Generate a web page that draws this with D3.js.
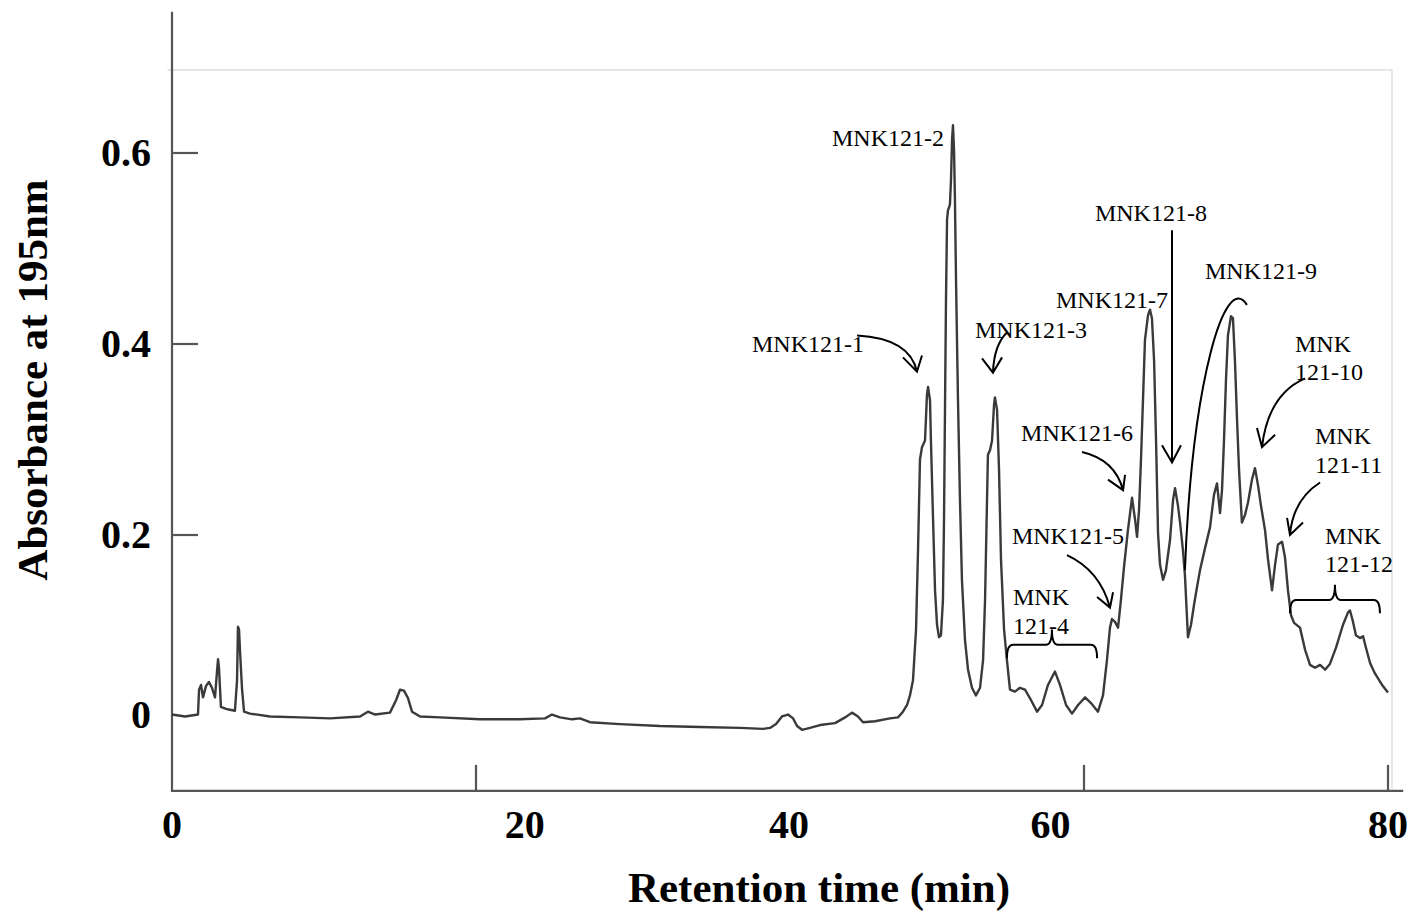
<!DOCTYPE html>
<html>
  <head>
    <meta charset="utf-8">
    <title>Chromatogram MNK121</title>
    <script src="https://d3js.org/d3.v7.min.js"></script>
  </head>
  <body style="margin:0;background:#fff">
<style>
  text { font-family: "Liberation Serif", "Times New Roman", serif; fill: #000; }
  .trace { fill: none; stroke: #3a3a3a; stroke-width: 2.4; stroke-linejoin: round; }
  .axis-line { stroke: #555; stroke-width: 2.2; }
  .frame { stroke: #e6e6e6; stroke-width: 2; fill: none; }
  .note { fill: none; stroke: #000; stroke-width: 2; }
  .tick-label { font-weight: bold; font-size: 40px; }
  .axis-title { font-weight: bold; font-size: 43px; }
  .label { font-size: 24px; }
</style>
<script>

  // retention time (min) and absorbance at 195nm
  var time = [0,0.86,1.71,1.78,1.91,2.04,2.24,2.43,2.63,2.83,2.96,3.03,3.09,3.22,3.55,3.82,4.14,4.28,4.34,4.41,4.47,4.61,4.74,5.13,6.45,8.42,10.39,12.37,12.89,13.36,14.34,14.74,15.00,15.26,15.53,15.79,16.32,17.63,20.26,22.89,24.54,25.00,25.53,26.32,26.84,27.50,29.47,32.11,34.74,37.37,38.88,39.34,39.74,40.13,40.53,40.86,41.12,41.45,41.97,42.63,43.62,44.28,44.74,45.13,45.46,46.25,47.24,47.76,48.09,48.36,48.55,48.75,48.95,49.08,49.21,49.34,49.54,49.67,49.74,49.87,49.93,50.07,50.20,50.33,50.46,50.59,50.72,50.79,50.86,50.92,50.99,51.05,51.18,51.25,51.32,51.38,51.45,51.51,51.58,51.71,51.84,51.97,52.17,52.37,52.63,52.89,53.16,53.36,53.49,53.62,53.68,53.82,53.95,54.08,54.14,54.28,54.41,54.54,54.74,54.93,55.13,55.46,55.79,56.12,56.45,56.91,57.24,57.63,58.09,58.42,58.82,59.21,59.61,60.07,60.46,60.92,61.25,61.51,61.71,61.84,62.04,62.24,62.43,62.63,62.89,63.16,63.36,63.49,63.62,63.75,63.88,64.01,64.21,64.34,64.47,64.61,64.74,64.87,65.00,65.20,65.39,65.66,65.86,65.99,66.18,66.32,66.51,66.64,66.84,67.04,67.24,67.43,67.63,67.96,68.29,68.55,68.75,68.95,69.08,69.21,69.34,69.47,69.67,69.80,69.93,70.07,70.20,70.39,70.59,70.79,71.05,71.25,71.45,71.64,71.91,72.11,72.37,72.57,72.76,73.03,73.22,73.42,73.62,73.82,74.21,74.54,74.87,75.20,75.53,75.86,76.18,76.58,77.04,77.37,77.50,77.70,77.89,78.16,78.36,78.55,78.82,79.14,79.61,80.00];
  var absorbance = [0.012,0.010,0.012,0.038,0.043,0.030,0.042,0.046,0.040,0.030,0.057,0.070,0.061,0.020,0.018,0.017,0.016,0.048,0.104,0.101,0.080,0.038,0.015,0.013,0.010,0.009,0.008,0.010,0.015,0.012,0.014,0.027,0.038,0.037,0.029,0.015,0.010,0.009,0.007,0.007,0.008,0.012,0.009,0.007,0.008,0.004,0.002,0.000,-0.001,-0.002,-0.003,-0.002,0.002,0.010,0.012,0.008,0.000,-0.004,-0.002,0.001,0.003,0.009,0.014,0.010,0.004,0.005,0.008,0.009,0.015,0.022,0.032,0.048,0.101,0.184,0.279,0.292,0.299,0.347,0.355,0.341,0.299,0.216,0.142,0.106,0.093,0.095,0.132,0.216,0.341,0.446,0.530,0.540,0.546,0.572,0.614,0.629,0.603,0.551,0.467,0.341,0.237,0.153,0.090,0.059,0.040,0.032,0.040,0.069,0.132,0.237,0.284,0.289,0.299,0.336,0.344,0.331,0.268,0.174,0.101,0.069,0.038,0.036,0.040,0.038,0.029,0.015,0.022,0.043,0.057,0.043,0.022,0.013,0.022,0.030,0.024,0.015,0.032,0.069,0.103,0.112,0.109,0.103,0.132,0.166,0.205,0.239,0.216,0.198,0.226,0.279,0.341,0.404,0.430,0.436,0.427,0.383,0.299,0.202,0.169,0.153,0.163,0.195,0.237,0.249,0.231,0.213,0.184,0.158,0.093,0.106,0.127,0.145,0.163,0.186,0.208,0.242,0.254,0.223,0.247,0.299,0.362,0.409,0.429,0.427,0.383,0.320,0.268,0.213,0.221,0.234,0.258,0.270,0.252,0.231,0.205,0.174,0.142,0.169,0.190,0.193,0.177,0.142,0.116,0.108,0.103,0.080,0.064,0.061,0.064,0.059,0.065,0.082,0.106,0.119,0.121,0.109,0.095,0.092,0.094,0.082,0.066,0.055,0.043,0.035];

  // axis ticks and where their labels sit (the printed labels are offset from the marks)
  var xTickMarks = [20, 60, 80];
  var xTickLabels = ["0", "20", "40", "60", "80"];
  var xTickLabelAt = [0, 23.2, 40.6, 57.8, 80];
  var yTickMarks = [0.2, 0.4, 0.6];
  var yTickLabels = ["0", "0.2", "0.4", "0.6"];
  var yTickLabelAt = [0.012, 0.2, 0.4, 0.6];

  // peak labels: [lines, time, absorbance] of the first baseline
  var peakLabels = [
    [["MNK121-1"], 38.16, 0.392],
    [["MNK121-2"], 43.42, 0.607],
    [["MNK121-3"], 52.83, 0.406],
    [["MNK", "121-4"], 55.33, 0.127],
    [["MNK121-5"], 55.26, 0.191],
    [["MNK121-6"], 55.86, 0.298],
    [["MNK121-7"], 58.16, 0.438],
    [["MNK121-8"], 60.72, 0.529],
    [["MNK121-9"], 67.96, 0.468],
    [["MNK", "121-10"], 73.88, 0.392],
    [["MNK", "121-11"], 75.20, 0.295],
    [["MNK", "121-12"], 75.86, 0.191]
  ];

  // curved arrows: start, control, tip, and the two arms of the head
  var arrows = [
    [[45.07, 0.409], [48.55, 0.406], [49.01, 0.371], [48.09, 0.386], [49.34, 0.388]],
    [[54.93, 0.412], [54.08, 0.399], [54.01, 0.370], [53.29, 0.385], [54.61, 0.386]],
    [[58.88, 0.179], [61.05, 0.163], [61.71, 0.124], [60.86, 0.135], [61.91, 0.140]],
    [[59.87, 0.287], [62.04, 0.279], [62.57, 0.247], [61.58, 0.258], [62.70, 0.263]],
    [[65.79, 0.519], [65.79, 0.400], [65.79, 0.276], [65.13, 0.294], [66.38, 0.294]],
    [[74.54, 0.364], [72.11, 0.347], [71.71, 0.292], [71.38, 0.312], [72.57, 0.305]],
    [[75.53, 0.255], [73.75, 0.237], [73.55, 0.200], [73.36, 0.218], [74.41, 0.213]]
  ];

  // the open arc for MNK121-9 (cubic: start, c1, c2, end)
  var arc9 = [[66.64, 0.163], [67.11, 0.362], [69.28, 0.477], [70.72, 0.441]];

  // braces: left, middle, right time; end, bar, peak absorbance
  var braces = [
    [54.93, 57.89, 60.86, 0.071, 0.085, 0.101],
    [73.55, 76.51, 79.47, 0.118, 0.132, 0.148]
  ];

  var w = 1412, h = 914;

  var svg = d3.select("body").append("svg")
      .attr("width", w)
      .attr("height", h);

  var x = d3.scaleLinear().domain([0, 80]).range([172, 1388]);
  var y = d3.scaleLinear().domain([0, 0.6]).range([726, 153]);

  // faint frame left over from the pasted plot
  svg.append("path")
      .attr("class", "frame")
      .attr("d", "M" + x(-0.3) + "," + y(0.687) + "H" + x(80.26) + "V" + y(-0.066));

  // axes
  svg.append("line")
      .attr("class", "axis-line")
      .attr("x1", x(0)).attr("x2", x(0))
      .attr("y1", y(0.748)).attr("y2", y(-0.068) + 1);
  svg.append("line")
      .attr("class", "axis-line")
      .attr("x1", x(0) - 1).attr("x2", x(81))
      .attr("y1", y(-0.068)).attr("y2", y(-0.068));

  svg.selectAll("line.ytick")
      .data(yTickMarks)
    .enter()
      .append("line")
      .attr("class", "axis-line ytick")
      .attr("x1", x(0)).attr("x2", x(0) + 26)
      .attr("y1", function(d) { return y(d); })
      .attr("y2", function(d) { return y(d); });

  svg.selectAll("line.xtick")
      .data(xTickMarks)
    .enter()
      .append("line")
      .attr("class", "axis-line xtick")
      .attr("x1", function(d) { return x(d); })
      .attr("x2", function(d) { return x(d); })
      .attr("y1", y(-0.068)).attr("y2", y(-0.068) - 26);

  svg.selectAll("text.xlab")
      .data(xTickLabels)
    .enter()
      .append("text")
      .attr("class", "tick-label xlab")
      .attr("text-anchor", "middle")
      .attr("x", function(d, i) { return x(xTickLabelAt[i]); })
      .attr("y", 838)
      .text(function(d) { return d; });

  svg.selectAll("text.ylab")
      .data(yTickLabels)
    .enter()
      .append("text")
      .attr("class", "tick-label ylab")
      .attr("text-anchor", "end")
      .attr("x", 151)
      .attr("y", function(d, i) { return y(yTickLabelAt[i]) + 13; })
      .text(function(d) { return d; });

  svg.append("text")
      .attr("class", "axis-title")
      .attr("text-anchor", "middle")
      .attr("x", 819).attr("y", 902)
      .text("Retention time (min)");

  svg.append("text")
      .attr("class", "axis-title")
      .attr("text-anchor", "middle")
      .attr("transform", "translate(47,380) rotate(-90)")
      .text("Absorbance at 195nm");

  // the chromatogram
  var line = d3.line()
      .x(function(d, i) { return x(time[i]); })
      .y(function(d) { return y(d); });

  svg.append("path")
      .datum(absorbance)
      .attr("class", "trace")
      .attr("d", line);

  // annotations
  var labels = svg.selectAll("text.label")
      .data(peakLabels)
    .enter()
      .append("text")
      .attr("class", "label")
      .attr("x", function(d) { return x(d[1]); })
      .attr("y", function(d) { return y(d[2]); });
  labels.selectAll("tspan")
      .data(function(d) { return d[0].map(function(s) { return {s: s, x: x(d[1])}; }); })
    .enter()
      .append("tspan")
      .attr("x", function(d) { return d.x; })
      .attr("dy", function(d, i) { return i ? "1.2em" : 0; })
      .text(function(d) { return d.s; });

  function pt(p) { return [x(p[0]), y(p[1])]; }

  svg.selectAll("path.arrow")
      .data(arrows)
    .enter()
      .append("path")
      .attr("class", "note arrow")
      .attr("d", function(d) {
        var p = d3.path(), s = pt(d[0]), c = pt(d[1]), t = pt(d[2]), a = pt(d[3]), b = pt(d[4]);
        p.moveTo(s[0], s[1]);
        p.quadraticCurveTo(c[0], c[1], t[0], t[1]);
        p.moveTo(a[0], a[1]);
        p.lineTo(t[0], t[1]);
        p.lineTo(b[0], b[1]);
        return p.toString();
      });

  svg.append("path")
      .attr("class", "note")
      .attr("d", function() {
        var p = d3.path(), s = pt(arc9[0]), c1 = pt(arc9[1]), c2 = pt(arc9[2]), e = pt(arc9[3]);
        p.moveTo(s[0], s[1]);
        p.bezierCurveTo(c1[0], c1[1], c2[0], c2[1], e[0], e[1]);
        return p.toString();
      });

  svg.selectAll("path.brace")
      .data(braces)
    .enter()
      .append("path")
      .attr("class", "note brace")
      .attr("d", function(d) {
        var l = x(d[0]), m = x(d[1]), r = x(d[2]),
            e = y(d[3]), b = y(d[4]), k = y(d[5]), q = 6;
        var p = d3.path();
        p.moveTo(l, e);
        p.quadraticCurveTo(l, b, l + q, b);
        p.lineTo(m - q, b);
        p.quadraticCurveTo(m, b, m, k);
        p.quadraticCurveTo(m, b, m + q, b);
        p.lineTo(r - q, b);
        p.quadraticCurveTo(r, b, r, e);
        return p.toString();
      });

</script>
  </body>
</html>
